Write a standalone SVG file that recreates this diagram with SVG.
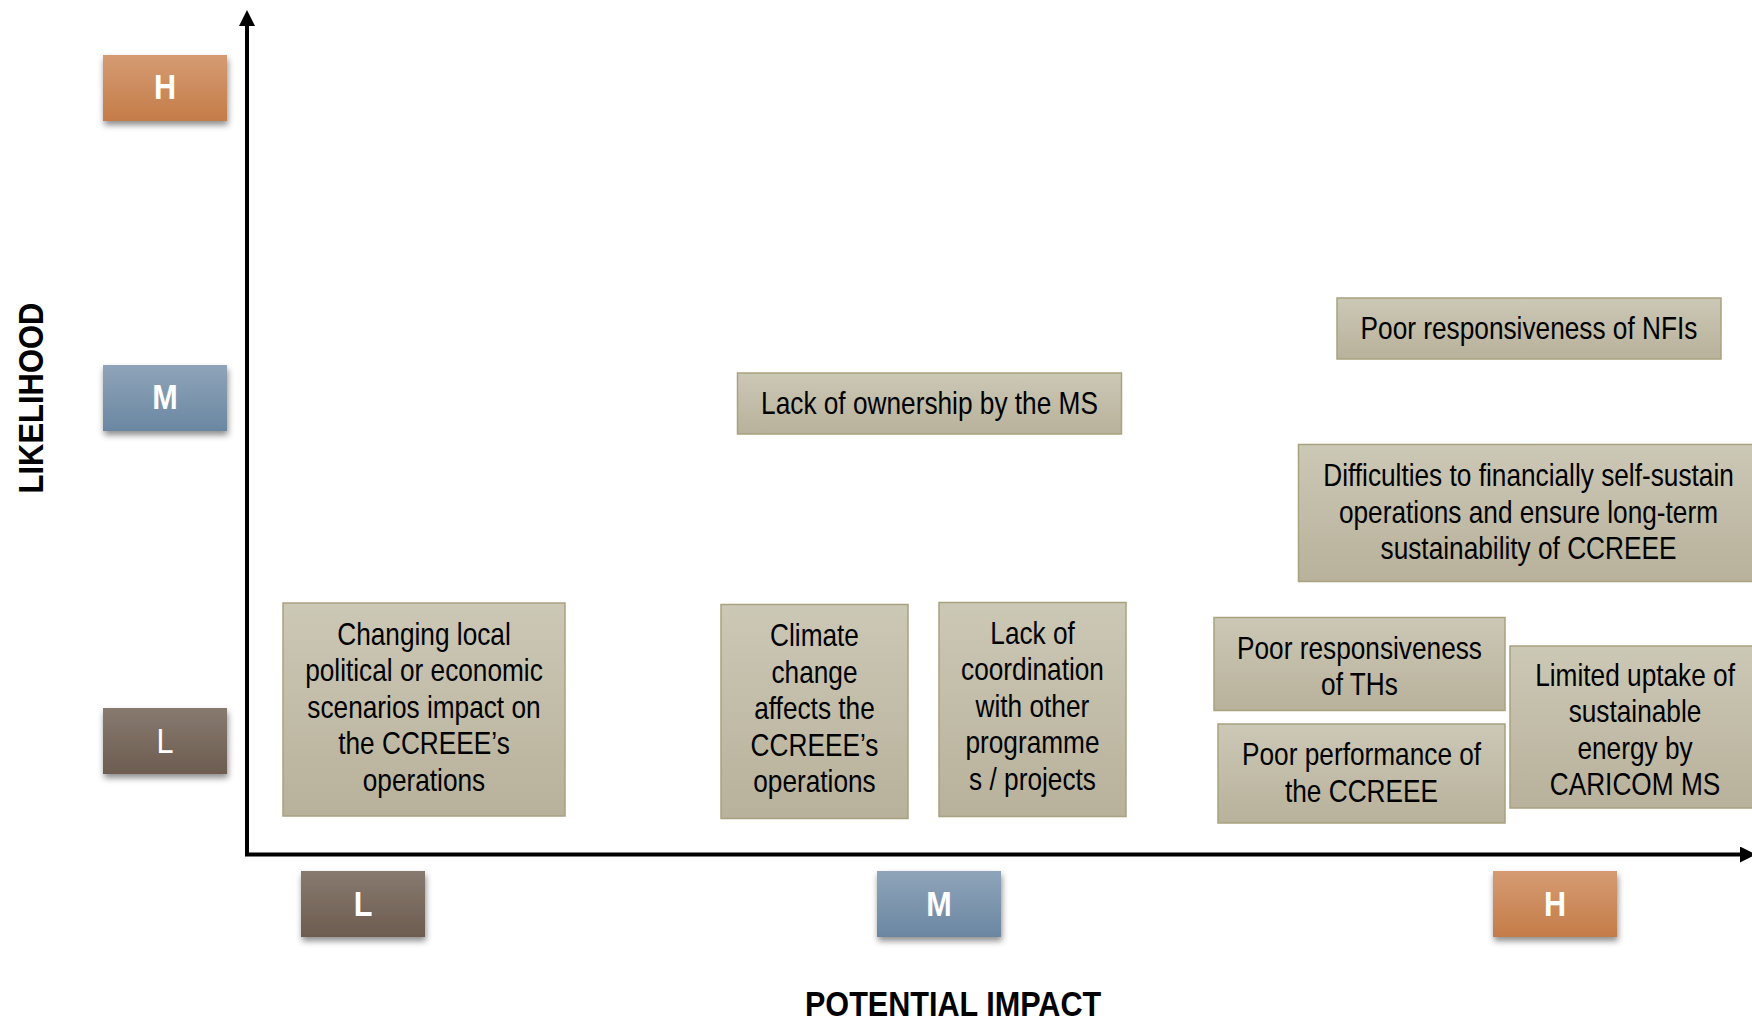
<svg xmlns="http://www.w3.org/2000/svg" width="1752" height="1021" viewBox="0 0 1752 1021">
  <defs>
    <linearGradient id="gRisk" x1="0" y1="0" x2="0" y2="1">
      <stop offset="0" stop-color="#ccc8b6"/>
      <stop offset="1" stop-color="#b8b19b"/>
    </linearGradient>
    <linearGradient id="gHigh" x1="0" y1="0" x2="0" y2="1">
      <stop offset="0" stop-color="#d59b73"/>
      <stop offset="1" stop-color="#c47c48"/>
    </linearGradient>
    <linearGradient id="gMed" x1="0" y1="0" x2="0" y2="1">
      <stop offset="0" stop-color="#8fa4b9"/>
      <stop offset="1" stop-color="#6a87a2"/>
    </linearGradient>
    <linearGradient id="gLow" x1="0" y1="0" x2="0" y2="1">
      <stop offset="0" stop-color="#877a6f"/>
      <stop offset="1" stop-color="#6d5c50"/>
    </linearGradient>
    <filter id="shadow" x="-20%" y="-20%" width="140%" height="160%">
      <feDropShadow dx="1" dy="4" stdDeviation="3" flood-color="#000" flood-opacity="0.45"/>
    </filter>
    <marker id="arrow" viewBox="0 0 16 16" refX="2" refY="8" markerWidth="16" markerHeight="16" markerUnits="userSpaceOnUse" orient="auto">
      <path d="M0,0 L16,8 L0,16 Z" fill="#000"/>
    </marker>
  </defs>
  <style>
    /* narrow sans look: regular sans squeezed horizontally around each text's own centre */
    .risk rect { fill: url(#gRisk); stroke: #a9a27f; stroke-width: 1.5; }
    .risk text { font-family: "Liberation Sans", Arial, sans-serif; font-size: 32px; fill: #000; text-anchor: middle;
                 transform-box: fill-box; transform-origin: center; transform: scaleX(0.82); }
    .level rect { filter: url(#shadow); }
    .level text { font-family: "Liberation Sans", Arial, sans-serif; font-weight: bold; font-size: 36px; fill: #fff; text-anchor: middle;
                  transform-box: fill-box; transform-origin: center; transform: scaleX(0.85); }
    .axis-title { font-family: "Liberation Sans", Arial, sans-serif; font-weight: bold; font-size: 36px; fill: #000; text-anchor: middle; }
    .narrow-bold { transform-box: fill-box; transform-origin: center; transform: scaleX(0.85); }
    .axis { stroke: #000; stroke-width: 4; fill: none; }
  </style>

  <rect width="1752" height="1021" fill="#fff"/>

  <!-- axes -->
  <g id="connectors">
    <path class="axis" d="M247,856 L247,24" marker-end="url(#arrow)"/>
    <path class="axis" d="M245,854.5 L1742,854.5" marker-end="url(#arrow)"/>
  </g>

  <!-- axis titles -->
  <text id="likelihood-title" class="axis-title" transform="translate(43,398) rotate(-90) scale(0.86,1)" x="0" y="0">LIKELIHOOD</text>
  <text id="impact-title" class="axis-title narrow-bold" x="953" y="1016">POTENTIAL IMPACT</text>

  <!-- likelihood levels -->
  <g id="likelihood-high" class="level">
    <rect x="103" y="55" width="124" height="66" fill="url(#gHigh)"/>
    <text x="165" y="99.5">H</text>
  </g>
  <g id="likelihood-medium" class="level">
    <rect x="103" y="365" width="124" height="66" fill="url(#gMed)"/>
    <text x="165" y="409.5">M</text>
  </g>
  <g id="likelihood-low" class="level">
    <rect x="103" y="708" width="124" height="66" fill="url(#gLow)"/>
    <text x="165" y="753" style="font-weight:normal">L</text>
  </g>

  <!-- impact levels -->
  <g id="impact-low" class="level">
    <rect x="301" y="871" width="124" height="66" fill="url(#gLow)"/>
    <text x="363" y="916">L</text>
  </g>
  <g id="impact-medium" class="level">
    <rect x="877" y="871" width="124" height="66" fill="url(#gMed)"/>
    <text x="939" y="916">M</text>
  </g>
  <g id="impact-high" class="level">
    <rect x="1493" y="871" width="124" height="66" fill="url(#gHigh)"/>
    <text x="1555" y="916">H</text>
  </g>

  <!-- risks -->
  <g id="risk-political" class="risk">
    <rect x="283" y="603" width="282" height="213"/>
    <text x="424" y="645">Changing local</text>
    <text x="424" y="681.5">political or economic</text>
    <text x="424" y="718">scenarios impact on</text>
    <text x="424" y="754.5">the CCREEE’s</text>
    <text x="424" y="791">operations</text>
  </g>
  <g id="risk-climate" class="risk">
    <rect x="721" y="604.5" width="187" height="214"/>
    <text x="814.5" y="646.5">Climate</text>
    <text x="814.5" y="683">change</text>
    <text x="814.5" y="719.5">affects the</text>
    <text x="814.5" y="756">CCREEE’s</text>
    <text x="814.5" y="792.5">operations</text>
  </g>
  <g id="risk-coordination" class="risk">
    <rect x="939" y="602.5" width="187" height="214"/>
    <text x="1032.5" y="644">Lack of</text>
    <text x="1032.5" y="680.5">coordination</text>
    <text x="1032.5" y="717">with other</text>
    <text x="1032.5" y="753.5">programme</text>
    <text x="1032.5" y="790">s / projects</text>
  </g>
  <g id="risk-ownership" class="risk">
    <rect x="737.5" y="373" width="384" height="61"/>
    <text x="929.5" y="414.5">Lack of ownership by the MS</text>
  </g>
  <g id="risk-nfis" class="risk">
    <rect x="1337" y="298" width="384" height="61"/>
    <text x="1529" y="339.5">Poor responsiveness of NFIs</text>
  </g>
  <g id="risk-financial" class="risk">
    <rect x="1298.5" y="444.5" width="470" height="137"/>
    <text x="1528.5" y="486.5">Difficulties to financially self-sustain</text>
    <text x="1528.5" y="523">operations and ensure long-term</text>
    <text x="1528.5" y="559.5">sustainability of CCREEE</text>
  </g>
  <g id="risk-ths" class="risk">
    <rect x="1214" y="617.5" width="291" height="93"/>
    <text x="1359.5" y="659">Poor responsiveness</text>
    <text x="1359.5" y="695.5">of THs</text>
  </g>
  <g id="risk-performance" class="risk">
    <rect x="1218" y="724" width="287" height="99"/>
    <text x="1361.5" y="765.5">Poor performance of</text>
    <text x="1361.5" y="802">the CCREEE</text>
  </g>
  <g id="risk-uptake" class="risk">
    <rect x="1510" y="646" width="260" height="162"/>
    <text x="1635" y="686">Limited uptake of</text>
    <text x="1635" y="722.5">sustainable</text>
    <text x="1635" y="759">energy by</text>
    <text x="1635" y="795.5">CARICOM MS</text>
  </g>
</svg>
